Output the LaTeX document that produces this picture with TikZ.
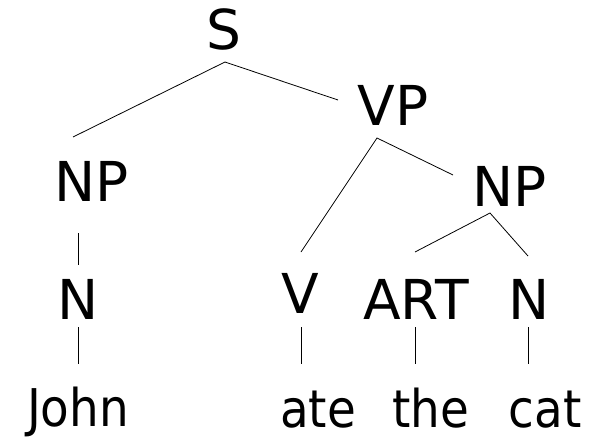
\documentclass[tikz,border=0pt]{standalone}
\usepackage{fontspec}
\setmainfont{DejaVu Sans}
\newfontfamily\wordfont{DejaVu Sans Condensed}
\begin{document}
\begin{tikzpicture}[x=1pt,y=-1pt,
  cat/.style={anchor=base,inner sep=0pt,font=\fontsize{55}{60}\selectfont},
  word/.style={anchor=base,inner sep=0pt,font=\wordfont\fontsize{52}{60}\selectfont},
  branch/.style={line width=0.8pt,black}]
\useasboundingbox (0,0) rectangle (600,439);
% category labels
\node[cat] (S)   at (224,49)  {S};
\node[cat] (VP)  at (393,125) {VP};
\node[cat] (NP1) at (92,201)  {NP};
\node[cat] (NP2) at (510,206) {NP};
\node[cat] (N1)  at (78,319)  {N};
\node[cat] (V)   at (300,313) {V};
\node[cat] (ART) at (416,319) {ART};
\node[cat] (N2)  at (529,319) {N};
% words
\node[word] (john) at (78,426)  {John};
\node[word] (ate)  at (318,427) {ate};
\node[word] (the)  at (431,427) {the};
\node[word] (cat)  at (545,427) {cat};
% branch end points
\coordinate (S-b)   at (225,62);
\coordinate (NP1-t) at (73,137);
\coordinate (VP-t)  at (338,100);
\coordinate (VP-b)  at (377,138);
\coordinate (V-t)   at (301,252);
\coordinate (NP2-t) at (453,175);
\coordinate (NP2-b) at (490,213);
\coordinate (ART-t) at (415,252);
\coordinate (N2-t)  at (528,256);
\coordinate (NP1-b) at (78,233);
\coordinate (N1-t)  at (78,265);
\coordinate (N1-b)  at (78,327);
\coordinate (john-t) at (78,364);
\coordinate (V-b)   at (301,327);
\coordinate (ate-t) at (301,364);
\coordinate (ART-b) at (415,327);
\coordinate (the-t) at (415,364);
\coordinate (N2-b)  at (528,327);
\coordinate (cat-t) at (528,364);
% branches
\draw[branch] (NP1-t) -- (S-b) -- (VP-t);
\draw[branch] (V-t) -- (VP-b) -- (NP2-t);
\draw[branch] (ART-t) -- (NP2-b) -- (N2-t);
\draw[branch] (NP1-b) -- (N1-t);
\draw[branch] (N1-b) -- (john-t);
\draw[branch] (V-b) -- (ate-t);
\draw[branch] (ART-b) -- (the-t);
\draw[branch] (N2-b) -- (cat-t);
\end{tikzpicture}
\end{document}
